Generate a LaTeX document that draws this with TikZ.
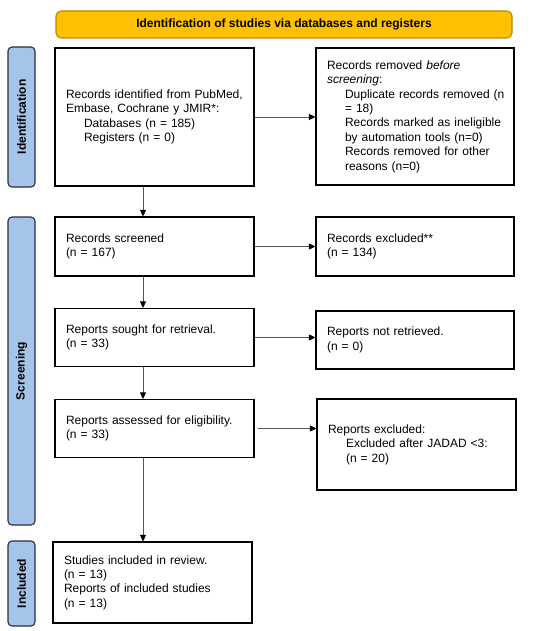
\documentclass[tikz,border=0pt]{standalone}
\usepackage{fontspec}
\setmainfont{Liberation Sans}
\usetikzlibrary{arrows.meta}
\definecolor{hdrfill}{HTML}{FFC000}
\definecolor{hdrline}{HTML}{B88A00}
\definecolor{barfill}{HTML}{A4C4EA}
\definecolor{barline}{HTML}{2A2E35}
\definecolor{arrline}{HTML}{555555}
\begin{document}
\begin{tikzpicture}[x=1pt,y=-1pt,
  box/.style={draw=black, line width=1.1pt, fill=white, inner xsep=11pt, inner ysep=2pt,
    align=left, font=\fontsize{12}{14.4}\selectfont},
  bar/.style={draw=barline, fill=barfill, line width=1.1pt, rounded corners=4pt, rotate=90,
    minimum height=27pt, inner sep=0pt, font=\bfseries\fontsize{12}{14}\selectfont},
  hdr/.style={draw=hdrline, fill=hdrfill, line width=1.1pt, rounded corners=5pt,
    minimum width=456pt, minimum height=27pt, inner sep=0pt, font=\bfseries\fontsize{12}{14}\selectfont},
  arr/.style={draw=arrline, line width=0.8pt, -{Triangle[length=6.5pt,width=6pt,color=black]}}
]
\useasboundingbox (0,0) rectangle (550,631);
\coordinate (vx) at (143,0);

% header
\node[hdr] (h) at (284,24.5) {Identification of studies via databases and registers};

% side bars
\node[bar, minimum width=140pt] (sid) at (21.5,117) {Identification};
\node[bar, minimum width=308pt] (ssc) at (21.5,371) {Screening};
\node[bar, minimum width=85pt] (sin) at (21.5,583.5) {Included};

% boxes
\node[box, text width=177pt, minimum height=138pt] (b1) at (154.5,117)
  {\mbox{Records identified from PubMed,}\\
   \mbox{Embase, Cochrane y JMIR*:}\\
   \hspace*{18pt}Databases (n = 185)\\
   \hspace*{18pt}Registers (n = 0)};
\node[box, text width=176pt, minimum height=137pt] (rem) at (415,116.5)
  {Records removed \textit{before}\\
   \textit{screening}:\\
   \hspace*{18pt}\mbox{Duplicate records removed (n}\\
   \hspace*{18pt}= 18)\\
   \hspace*{18pt}\mbox{Records marked as ineligible}\\
   \hspace*{18pt}\mbox{by automation tools (n=0)}\\
   \hspace*{18pt}\mbox{Records removed for other}\\
   \hspace*{18pt}reasons (n=0)};

\node[box, text width=177pt, minimum height=59pt] (scr) at (154.5,246.5)
  {Records screened\\(n = 167)};
\node[box, text width=176pt, minimum height=59pt] (exc) at (415,246.5)
  {Records excluded**\\(n = 134)};

\node[box, text width=177pt, minimum height=58pt] (sou) at (154.5,337.5)
  {Reports sought for retrieval.\\(n = 33)};
\node[box, text width=176pt, minimum height=58pt] (nr) at (415,340)
  {Reports not retrieved.\\(n = 0)};

\node[box, text width=177pt, minimum height=58pt] (ass) at (154.5,428.5)
  {Reports assessed for eligibility.\\(n = 33)};
\node[box, text width=177pt, minimum height=91pt] (rex) at (416.5,444.5)
  {Reports excluded:\\
   \hspace*{18pt}\mbox{Excluded after JADAD <3:}\\
   \hspace*{18pt}(n = 20)};

\node[box, text width=177pt, minimum height=81pt] (inc) at (152.5,582.5)
  {Studies included in review.\\
   (n = 13)\\
   Reports of included studies\\
   (n = 13)};

% connectors
\draw[arr] (b1.east) -- (b1.east -| rem.west);
\draw[arr] (b1.south -| vx) -- (scr.north -| vx);
\draw[arr] (scr.east) -- (scr.east -| exc.west);
\draw[arr] (scr.south -| vx) -- (sou.north -| vx);
\draw[arr] (sou.east) -- (sou.east -| nr.west);
\draw[arr] (sou.south -| vx) -- (ass.north -| vx);
\draw[arr, shorten <=3pt] (ass.east) -- (ass.east -| rex.west);
\draw[arr] (ass.south -| vx) -- (inc.north -| vx);
\end{tikzpicture}
\end{document}
